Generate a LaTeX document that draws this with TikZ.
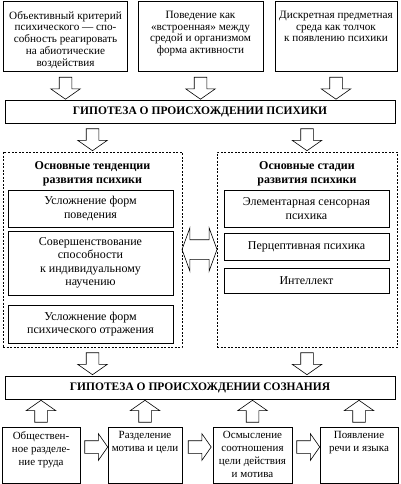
\documentclass[tikz,border=0pt]{standalone}
\usepackage{fontspec}
\setmainfont{Liberation Serif}
\usetikzlibrary{shapes.arrows,calc}

\begin{document}
\begin{tikzpicture}[x=1pt,y=-1pt,
	box/.style={draw,line width=0.8pt,inner sep=0,align=center,font=\fontsize{12}{13.5}\selectfont},
	topbox/.style={box,font=\fontsize{11.2}{11.8}\selectfont},
	lowbox/.style={box,font=\fontsize{11}{13}\selectfont},
	hyp/.style={box,minimum width=390pt,minimum height=23pt,font=\bfseries\fontsize{11.5}{13}\selectfont},
	frame/.style={draw,line width=0.8pt,dash pattern=on 2pt off 1.5pt,inner sep=0},
	title/.style={align=center,inner sep=0,font=\bfseries\fontsize{12}{13.5}\selectfont},
	fat/.style={draw,single arrow,line width=0.6pt,inner xsep=0,inner ysep=6pt,single arrow head extend=8.5pt,single arrow tip angle=110,minimum height=22pt},
	wide/.style={draw,double arrow,line width=0.6pt,inner xsep=0,inner ysep=9.5pt,double arrow head extend=12pt,double arrow tip angle=140,minimum height=35pt}]
	\useasboundingbox (0,0) rectangle (400,484);
	% top row
	\node[topbox,minimum width=124pt,minimum height=70pt] (t1) at (65.5,36) {\parbox[c][50pt][t]{122pt}{\centering Объективный критерий\\психического — спо-\\собность реагировать\\на абиотические\\воздействия}};
	\node[topbox,minimum width=125pt,minimum height=70pt] (t2) at (200.5,36) {\parbox[c][50pt][t]{123pt}{\centering Поведение как\\«встроенная» между\\средой и организмом\\форма активности}};
	\node[topbox,minimum width=122pt,minimum height=70pt] (t3) at (336,36) {\parbox[c][50pt][t]{120pt}{\centering Дискретная предметная\\среда как толчок\\к появлению психики}};
	\node[hyp] (h1) at (200,111.5) {ГИПОТЕЗА О ПРОИСХОЖДЕНИИ ПСИХИКИ};
	\node[fat,rotate=-90] (a1) at (t1.south |- 0,86) {};
	\node[fat,rotate=-90] (a2) at (t2.south |- 0,86) {};
	\node[fat,rotate=-90] (a3) at (t3.south |- 0,86) {};
	% middle part
	\node[frame,minimum width=179pt,minimum height=195pt] (dl) at (92.5,249.5) {};
	\node[frame,minimum width=180pt,minimum height=195pt] (dr) at (307,249.5) {};
	\node[fat,rotate=-90] (a4) at (dl.north |- 0,137.5) {};
	\node[fat,rotate=-90] (a5) at (dr.north |- 0,137.5) {};
	\node[title] (tl) at (92.5,174) {Основные тенденции\\развития психики};
	\node[title] (tr) at (307,174) {Основные стадии\\развития психики};
	\node[box,minimum width=165pt,minimum height=37pt] (l1) at (90.5,208.5) {Усложнение форм\\поведения};
	\node[box,minimum width=165pt,minimum height=64pt] (l2) at (90.5,263) {Совершенствование\\способности\\к индивидуальному\\научению};
	\node[box,minimum width=165pt,minimum height=38pt] (l3) at (90.5,324) {Усложнение форм\\психического отражения};
	\node[box,minimum width=165pt,minimum height=37pt] (r1) at (306.5,208.5) {Элементарная сенсорная\\психика};
	\node[box,minimum width=165pt,minimum height=27pt] (r2) at (306.5,246.5) {Перцептивная психика};
	\node[box,minimum width=165pt,minimum height=25pt] (r3) at (306.5,280.5) {Интеллект};
	\node[wide] (dd) at ($(dl.east)!0.5!(dr.west)$) {};
	% bottom part
	\node[hyp] (h2) at (200,387.5) {ГИПОТЕЗА О ПРОИСХОЖДЕНИИ СОЗНАНИЯ};
	\node[fat,rotate=-90] (a6) at (dl.south |- 0,361.5) {};
	\node[fat,rotate=-90] (a7) at (dr.south |- 0,361.5) {};
	\node[lowbox,minimum width=78pt,minimum height=56pt] (b1) at (41,455.5) {\parbox[c][48pt][t]{76pt}{\centering Обществен-\\ное разделе-\\ние труда}};
	\node[lowbox,minimum width=74pt,minimum height=56pt] (b2) at (145,455.5) {\parbox[c][48pt][t]{72pt}{\centering Разделение\\мотива и цели}};
	\node[lowbox,minimum width=79pt,minimum height=56pt] (b3) at (252.5,455.5) {\parbox[c][48pt][t]{77pt}{\centering Осмысление\\соотношения\\цели действия\\и мотива}};
	\node[lowbox,minimum width=78pt,minimum height=56pt] (b4) at (359,455.5) {\parbox[c][48pt][t]{76pt}{\centering Появление\\речи и языка}};
	\foreach \b in {1,2,3,4}
		\node[fat,rotate=90] (u\b) at (b\b.north |- 0,413.5) {};
	\node[fat,single arrow head extend=7pt,minimum height=23pt,yshift=8.5pt] (c1) at ($(b1.east)!0.5!(b2.west)$) {};
	\node[fat,single arrow head extend=7pt,minimum height=23pt,yshift=8.5pt] (c2) at ($(b2.east)!0.5!(b3.west)$) {};
	\node[fat,single arrow head extend=7pt,minimum height=23pt,yshift=8.5pt] (c3) at ($(b3.east)!0.5!(b4.west)$) {};
\end{tikzpicture}
\end{document}
